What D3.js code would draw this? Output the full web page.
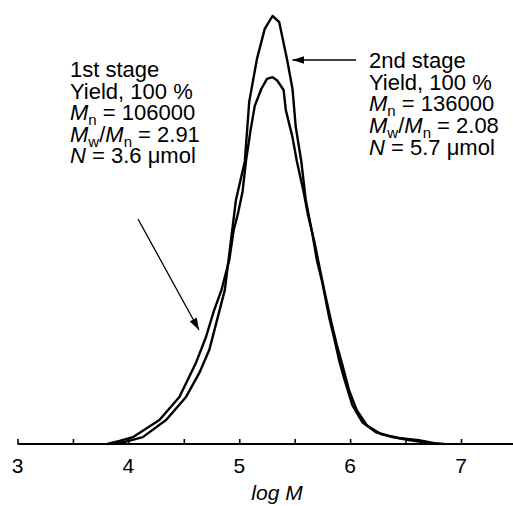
<!DOCTYPE html>
<html><head><meta charset="utf-8">
<script src="https://cdn.jsdelivr.net/npm/d3@7"></script>
<style>
body{margin:0;background:#fff;}
svg{display:block;font-family:"Liberation Sans",Arial,sans-serif;}
</style></head>
<body><svg id="c" width="513" height="506"></svg>
<script>
// ---- data ----
const xTicks = [3, 3.5, 4, 4.5, 5, 5.5, 6, 6.5, 7];
const xTickLabels = ["3", "", "4", "", "5", "", "6", "", "7"];

// 2nd stage (taller, narrower peak)
const stage2LogM = [3.86,3.97,4.13,4.34,4.52,4.64,4.73,4.87,4.97,5.05,5.09,5.16,5.23,5.30,5.36,5.43,5.48,5.51,5.56,5.60,5.66,5.70,5.75,5.81,5.86,5.90,5.95,6.02,6.11,6.23,6.38,6.53,6.71,6.80];
const stage2Signal = [0,0.005,0.016,0.056,0.11,0.166,0.22,0.36,0.57,0.66,0.80,0.90,0.97,1.0,0.986,0.90,0.83,0.74,0.66,0.57,0.49,0.43,0.376,0.297,0.243,0.196,0.15,0.091,0.051,0.028,0.016,0.009,0.002,0];

// 1st stage (lower, broader)
const stage1LogM = [3.81,3.92,4.04,4.28,4.46,4.61,4.70,4.77,4.84,4.91,4.95,4.99,5.03,5.06,5.10,5.14,5.20,5.25,5.30,5.34,5.40,5.42,5.48,5.52,5.58,5.62,5.68,5.72,5.77,5.83,5.88,5.93,5.99,6.06,6.15,6.28,6.44,6.62,6.76,6.85];
const stage1Signal = [0,0.007,0.016,0.056,0.11,0.19,0.25,0.31,0.36,0.43,0.50,0.54,0.59,0.66,0.73,0.79,0.83,0.853,0.857,0.85,0.827,0.78,0.717,0.66,0.59,0.535,0.47,0.418,0.355,0.285,0.231,0.185,0.126,0.079,0.044,0.023,0.014,0.009,0.002,0];

const stage1Label = ["1st stage", "Yield, 100 %", "Mn = 106000", "Mw/Mn = 2.91", "N = 3.6 μmol"];
const stage2Label = ["2nd stage", "Yield, 100 %", "Mn = 136000", "Mw/Mn = 2.08", "N = 5.7 μmol"];

// ---- drawing ----
const svg = d3.select("#c");
const x = d3.scaleLinear().domain([3, 7]).range([17.5, 461]);
const y = d3.scaleLinear().domain([0, 1]).range([444, 16]);

const line = d3.line().x(d => x(d[0])).y(d => y(d[1])).curve(d3.curveLinear);

svg.append("path")
  .datum(d3.zip(stage1LogM, stage1Signal))
  .attr("d", line).attr("fill", "none").attr("stroke", "#000")
  .attr("stroke-width", 2.4).attr("stroke-linejoin", "round");
svg.append("path")
  .datum(d3.zip(stage2LogM, stage2Signal))
  .attr("d", line).attr("fill", "none").attr("stroke", "#000")
  .attr("stroke-width", 2.4).attr("stroke-linejoin", "round");

// x axis
const axis = d3.axisTop(x).tickValues(xTicks).tickSize(5).tickFormat("");
const gx = svg.append("g").attr("transform", "translate(0,444)").call(axis);
gx.select(".domain").remove();
gx.selectAll(".tick line").attr("stroke", "#000").attr("stroke-width", 1.6);
svg.append("line").attr("x1", x(3)).attr("x2", 513).attr("y1", 444).attr("y2", 444)
  .attr("stroke", "#000").attr("stroke-width", 2.2);

svg.append("g").selectAll("text").data(xTicks.map((t, i) => [t, xTickLabels[i]]).filter(d => d[1] !== ""))
  .join("text")
  .attr("x", d => x(d[0])).attr("y", 473)
  .attr("text-anchor", "middle").attr("font-size", 21).attr("fill", "#000")
  .text(d => d[1]);

svg.append("text").attr("x", 277).attr("y", 500).attr("text-anchor", "middle")
  .attr("font-size", 21).attr("font-style", "italic").text("log M");

// annotation text blocks with italic symbols and subscripts
function block(lines, x0, y0, dy) {
  const g = svg.append("g").attr("font-size", 22).attr("fill", "#000");
  lines.forEach((s, i) => {
    const t = g.append("text").attr("x", x0).attr("y", y0 + i * dy);
    // segments: [text, italic, subscript]
    let segs;
    if (s.startsWith("Mw/Mn")) {
      segs = [["M", 1, 0], ["w", 0, 1], ["/", 0, 0], ["M", 1, 0], ["n", 0, 1], [s.slice(5), 0, 0]];
    } else if (s.startsWith("Mn")) {
      segs = [["M", 1, 0], ["n", 0, 1], [s.slice(2), 0, 0]];
    } else if (s.startsWith("N ")) {
      segs = [["N", 1, 0], [s.slice(1), 0, 0]];
    } else {
      segs = [[s, 0, 0]];
    }
    let prevSub = 0;
    segs.forEach(([txt, it, sub]) => {
      const sp = t.append("tspan").text(txt);
      if (it) sp.attr("font-style", "italic");
      if (sub) sp.attr("font-size", 15);
      const shift = (sub ? 5 : 0) - (prevSub ? 5 : 0);
      if (shift !== 0) sp.attr("dy", shift);
      prevSub = sub;
    });
  });
}
block(stage1Label, 70, 77, 21.6);
block(stage2Label, 369, 68, 21.7);

// arrows
const defs = svg.append("defs");
defs.append("marker").attr("id", "ah").attr("viewBox", "0 0 12 8")
  .attr("refX", 12).attr("refY", 4).attr("markerWidth", 12).attr("markerHeight", 8)
  .attr("markerUnits", "userSpaceOnUse").attr("orient", "auto")
  .append("path").attr("d", "M0,0 L12,4 L0,8 Z").attr("fill", "#000");

svg.append("line").attr("x1", 356).attr("y1", 60).attr("x2", x(5.48)).attr("y2", 60)
  .attr("stroke", "#000").attr("stroke-width", 1.3).attr("marker-end", "url(#ah)");
svg.append("line").attr("x1", 138).attr("y1", 219).attr("x2", 199).attr("y2", 330)
  .attr("stroke", "#000").attr("stroke-width", 1.3).attr("marker-end", "url(#ah)");
</script></body></html>
